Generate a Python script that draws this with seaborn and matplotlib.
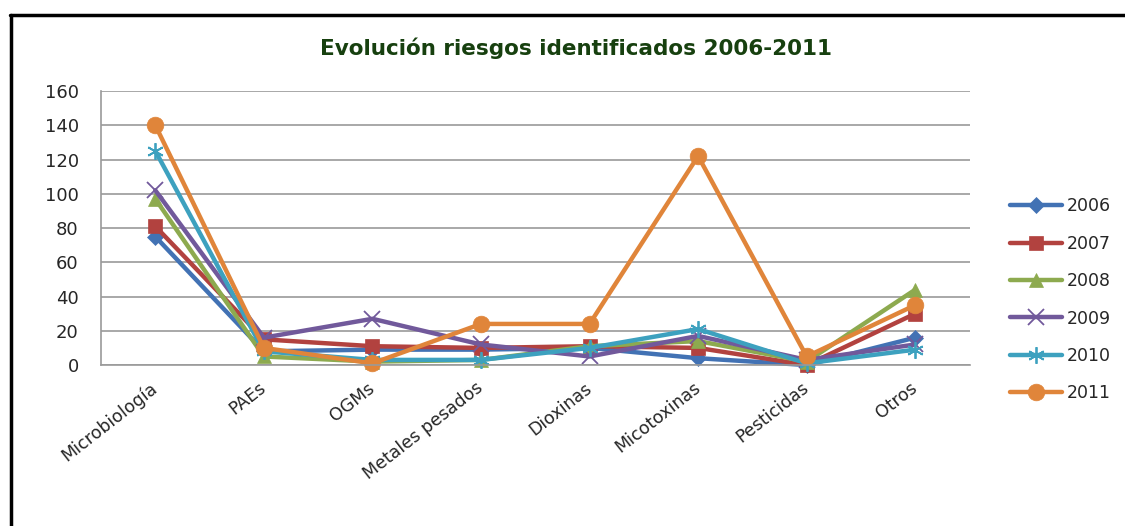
import matplotlib
matplotlib.use("Agg")
import matplotlib.pyplot as plt
from matplotlib.lines import Line2D
import pandas as pd
import seaborn as sns

categories = ["Microbiología", "PAEs", "OGMs", "Metales pesados",
              "Dioxinas", "Micotoxinas", "Pesticidas", "Otros"]
years = ["2006", "2007", "2008", "2009", "2010", "2011"]

v2006 = [75, 8, 9, 9, 10, 4, 0, 16]
v2007 = [81, 15, 11, 10, 11, 10, 0, 30]
v2008 = [97, 5, 2, 3, 11, 14, 2, 44]
v2009 = [102, 16, 27, 12, 5, 17, 3, 12]
v2010 = [125, 8, 3, 3, 10, 21, 1, 9]
v2011 = [140, 10, 1, 24, 24, 122, 5, 35]
series = [v2006, v2007, v2008, v2009, v2010, v2011]

colors = ["#4272B4", "#B2423F", "#8DAA4F", "#71599B", "#3DA1BF", "#E0853A"]
markers = ["D", "s", "^", "x", (6, 2, 0), "o"]
msizes = [8, 10, 10, 11, 12, 12]

rows = []
for y, vals in zip(years, series):
    for c, v in zip(categories, vals):
        rows.append({"categoria": c, "valor": v, "anio": y})
df = pd.DataFrame(rows)

sns.set_style("white")
plt.rcParams["font.family"] = ["DejaVu Sans"]

fig = plt.figure(figsize=(11.25, 5.26), dpi=100)
ax = fig.add_axes([0.0898, 0.306, 0.772, 0.521])

for y, col, m, ms in zip(years, colors, markers, msizes):
    sub = df[df["anio"] == y]
    sns.lineplot(data=sub, x="categoria", y="valor", ax=ax, sort=False,
                 color=col, marker=m, markersize=ms, markeredgecolor=col,
                 markeredgewidth=1.3 if m in ("x", (6, 2, 0)) else 0.5,
                 linewidth=3.2, label=y, clip_on=False)

ax.set_xlim(-0.5, 7.5)
ax.set_ylim(0, 160)
ax.set_yticks(range(0, 161, 20))
ax.set_xticks(range(len(categories)))
ax.set_xticklabels(categories, rotation=38, ha="right", va="center",
                   rotation_mode="anchor", fontsize=12.5)
ax.set_xticks([i - 0.5 for i in range(len(categories) + 1)], minor=True)
ax.tick_params(axis="x", which="major", length=0, pad=15)
ax.tick_params(axis="x", which="minor", length=6, color="#9a9a9a", direction="out")
ax.tick_params(axis="y", length=6, color="#9a9a9a", direction="out",
               labelsize=13, pad=10)
ax.yaxis.grid(True, color="#9a9a9a", linewidth=1.2)
ax.set_xlabel("")
ax.set_ylabel("")
for s in ["top", "right"]:
    ax.spines[s].set_visible(False)
for s in ["left", "bottom"]:
    ax.spines[s].set_color("#9a9a9a")
    ax.spines[s].set_linewidth(1.2)

fig.text(0.512, 0.909, "Evolución riesgos identificados 2006-2011",
         ha="center", va="center", fontsize=15.5, fontweight="bold",
         color="#17400F")

leg = ax.legend(loc="center left", bbox_to_anchor=(0.884, 0.43),
                bbox_transform=fig.transFigure, frameon=False,
                fontsize=12.5, handlelength=3.0, labelspacing=1.12,
                handletextpad=0.25)

# figure frame (top and left edges)
fig.add_artist(Line2D([0.009, 1.0], [0.972, 0.972], transform=fig.transFigure,
                      color="black", linewidth=2.5))
fig.add_artist(Line2D([0.0095, 0.0095], [0.0, 0.972], transform=fig.transFigure,
                      color="black", linewidth=2.5))

fig.savefig("out.png", dpi=100)
